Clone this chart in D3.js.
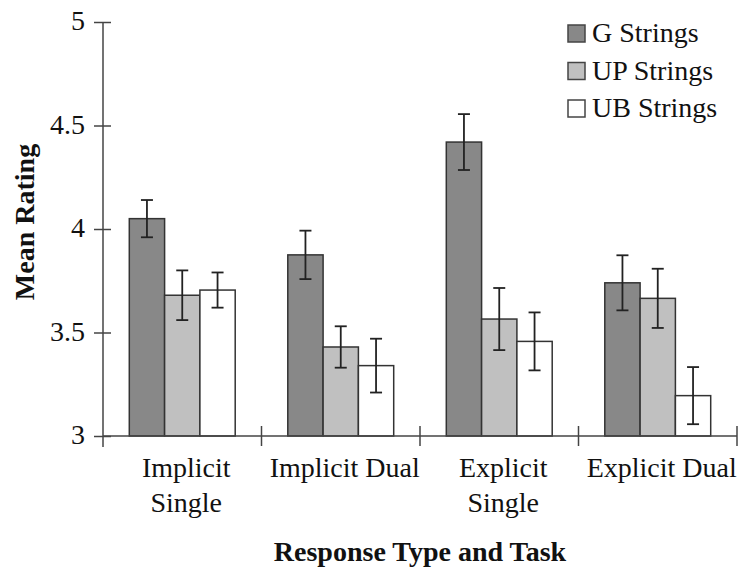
<!DOCTYPE html>
<html>
<head>
<meta charset="utf-8">
<script src="https://cdn.jsdelivr.net/npm/d3@7"></script>
<style>
  body { margin: 0; background: #fff; }
  svg { display: block; }
  svg text { font-family: 'Liberation Serif', 'Times New Roman', serif; }
</style>
</head>
<body>
<svg id="chart" width="742" height="569"></svg>
<script>
// data ------------------------------
const categories = [['Implicit', 'Single'], ['Implicit Dual'], ['Explicit', 'Single'], ['Explicit Dual']]
const seriesNames = ['G Strings', 'UP Strings', 'UB Strings']
const gMeans = [4.05, 3.875, 4.42, 3.74]
const gErr = [0.09, 0.117, 0.135, 0.133]
const upMeans = [3.68, 3.43, 3.565, 3.665]
const upErr = [0.12, 0.1, 0.15, 0.143]
const ubMeans = [3.705, 3.34, 3.457, 3.195]
const ubErr = [0.085, 0.13, 0.14, 0.138]
const yTicks = [3, 3.5, 4, 4.5, 5]

const means = [gMeans, upMeans, ubMeans]
const errs = [gErr, upErr, ubErr]
const fills = ['#888888', '#c0c0c0', '#ffffff']

function draw() {
  const svg = d3.select('#chart')
  const left = 103
  const right = 737
  const top = 22
  const bottom = 436

  const x0 = d3.scaleBand().domain(d3.range(categories.length)).range([left, right]).padding(0)
  const x1 = d3.scaleBand().domain(d3.range(seriesNames.length)).range([0, x0.bandwidth()]).paddingInner(0).paddingOuter(0.745)
  const y = d3.scaleLinear().domain([3, 5]).range([bottom, top])

  const rows = []
  categories.forEach((c, i) => {
    seriesNames.forEach((s, j) => {
      rows.push({ i, j, v: means[j][i], e: errs[j][i] })
    })
  })

  // bars
  svg
    .append('g')
    .selectAll('rect')
    .data(rows)
    .join('rect')
    .attr('x', (d) => x0(d.i) + x1(d.j))
    .attr('width', x1.bandwidth())
    .attr('y', (d) => y(d.v))
    .attr('height', (d) => y(3) - y(d.v))
    .attr('fill', (d) => fills[d.j])
    .attr('stroke', '#333')
    .attr('stroke-width', 1.5)

  // error bars
  const eb = svg.append('g').attr('stroke', '#222').attr('stroke-width', 1.8)
  const cx = (d) => x0(d.i) + x1(d.j) + x1.bandwidth() / 2
  eb.selectAll('line.v')
    .data(rows)
    .join('line')
    .attr('class', 'v')
    .attr('x1', cx)
    .attr('x2', cx)
    .attr('y1', (d) => y(d.v + d.e))
    .attr('y2', (d) => y(d.v - d.e))
  eb.selectAll('line.t')
    .data(rows)
    .join('line')
    .attr('class', 't')
    .attr('x1', (d) => cx(d) - 6)
    .attr('x2', (d) => cx(d) + 6)
    .attr('y1', (d) => y(d.v + d.e))
    .attr('y2', (d) => y(d.v + d.e))
  eb.selectAll('line.b')
    .data(rows)
    .join('line')
    .attr('class', 'b')
    .attr('x1', (d) => cx(d) - 6)
    .attr('x2', (d) => cx(d) + 6)
    .attr('y1', (d) => y(d.v - d.e))
    .attr('y2', (d) => y(d.v - d.e))

  // y axis
  const yAxis = svg
    .append('g')
    .attr('transform', `translate(${left},0)`)
    .call(d3.axisLeft(y).tickValues(yTicks).tickFormat(d3.format('')).tickSize(8).tickPadding(10))
    .attr('font-family', null)
    .attr('font-size', null)
  yAxis.select('.domain').remove()
  yAxis.selectAll('.tick line').attr('x1', -9).attr('x2', 8).attr('stroke', '#444').attr('stroke-width', 1.5)
  yAxis.selectAll('.tick text').attr('font-size', 28).attr('fill', '#111').attr('x', -18).attr('dy', '0.27em')
  yAxis.append('line').attr('x1', 0).attr('x2', 0).attr('y1', top).attr('y2', bottom + 11).attr('stroke', '#444').attr('stroke-width', 1.5)

  // x axis
  const xg = svg.append('g')
  xg.append('line').attr('x1', left).attr('x2', right).attr('y1', bottom).attr('y2', bottom).attr('stroke', '#444').attr('stroke-width', 1.5)
  xg.selectAll('line.tk')
    .data(d3.range(1, categories.length + 1))
    .join('line')
    .attr('class', 'tk')
    .attr('x1', (i) => left + i * x0.step())
    .attr('x2', (i) => left + i * x0.step())
    .attr('y1', bottom - 10)
    .attr('y2', bottom + 10)
    .attr('stroke', '#444')
    .attr('stroke-width', 1.5)
  xg.selectAll('text')
    .data(categories)
    .join('text')
    .attr('x', (d, i) => x0(i) + x0.bandwidth() / 2 + 4)
    .attr('y', 477)
    .attr('text-anchor', 'middle')
    .attr('font-size', 28)
    .attr('fill', '#111')
    .selectAll('tspan')
    .data((d) => d)
    .join('tspan')
    .attr('x', function () { return d3.select(this.parentNode).attr('x') })
    .attr('dy', (d, k) => (k === 0 ? 0 : 35))
    .text((d) => d)

  // titles
  svg.append('text')
    .attr('x', (left + right) / 2)
    .attr('y', 561)
    .attr('text-anchor', 'middle')
    .attr('font-size', 28)
    .attr('font-weight', 'bold')
    .attr('fill', '#111')
    .text('Response Type and Task')
  svg.append('text')
    .attr('transform', 'translate(34,222) rotate(-90)')
    .attr('text-anchor', 'middle')
    .attr('font-size', 28)
    .attr('font-weight', 'bold')
    .attr('fill', '#111')
    .text('Mean Rating')

  // legend
  const lg = svg.append('g').selectAll('g').data(seriesNames).join('g')
    .attr('transform', (d, i) => `translate(568,${25 + i * 37.5})`)
  lg.append('rect').attr('width', 17).attr('height', 17).attr('fill', (d, i) => fills[i]).attr('stroke', '#444').attr('stroke-width', 1.5)
  lg.append('text').attr('x', 24).attr('y', 17).attr('font-size', 28).attr('fill', '#111').text((d) => d)
}

draw()
</script>
</body>
</html>
